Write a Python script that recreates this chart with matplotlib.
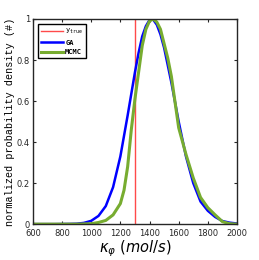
import matplotlib.pyplot as plt

# values
y_true = 1300

ga_x = [600, 650, 700, 750, 800, 850, 900, 950, 1000, 1050, 1100, 1150, 1200,
        1250, 1300, 1325, 1350, 1375, 1400, 1425, 1450, 1475, 1500, 1550,
        1600, 1650, 1700, 1750, 1800, 1850, 1900, 1950, 2000]
ga_y = [0, 0, 0, 0, 0.0005, 0.001, 0.002, 0.006, 0.016, 0.04, 0.088, 0.18,
        0.33, 0.53, 0.74, 0.835, 0.915, 0.965, 0.995, 0.997, 0.972, 0.925,
        0.86, 0.69, 0.50, 0.33, 0.20, 0.11, 0.065, 0.035, 0.015, 0.007, 0.003]

mcmc_x = [600, 700, 800, 900, 1000, 1050, 1100, 1150, 1200, 1225, 1250, 1275,
          1300, 1325, 1350, 1375, 1400, 1425, 1450, 1475, 1500, 1525, 1550,
          1600, 1650, 1700, 1750, 1800, 1850, 1900, 1950, 2000]
mcmc_y = [0, 0, 0, 0, 0.002, 0.008, 0.018, 0.045, 0.10, 0.165, 0.28, 0.46,
          0.61, 0.74, 0.87, 0.95, 0.99, 1.0, 0.985, 0.95, 0.88, 0.81, 0.72,
          0.47, 0.34, 0.225, 0.13, 0.08, 0.045, 0.012, 0.002, 0]

xticks = [600, 800, 1000, 1200, 1400, 1600, 1800, 2000]
yticks = [0, 0.2, 0.4, 0.6, 0.8, 1]
ytick_labels = ["0", "0.2", "0.4", "0.6", "0.8", "1"]

fig = plt.figure(figsize=(2.59, 2.60), dpi=100)
ax = fig.add_axes([0.127, 0.138, 0.788, 0.789])

ax.axvline(y_true, color="#ff4a4a", lw=1.0, label=r"$\mathtt{y_{true}}$")
ax.plot(ga_x, ga_y, color="#0000ff", lw=1.8, label="GA")
ax.plot(mcmc_x, mcmc_y, color="#77ac30", lw=2.2, label="MCMC")

ax.set_xlim(600, 2000)
ax.set_ylim(0, 1)
ax.set_xticks(xticks)
ax.set_xticklabels([str(t) for t in xticks])
ax.set_yticks(yticks)
ax.set_yticklabels(ytick_labels)
ax.tick_params(direction="in", top=True, right=True, labelsize=6, length=2.5,
               width=0.8, colors="#262626")
ax.tick_params(axis="x", pad=3.5)
ax.tick_params(axis="y", pad=2)
for s in ax.spines.values():
    s.set_linewidth(1.0)
    s.set_color("#262626")

ax.set_xlabel(r"$\kappa_\varphi\ (mol/s)$", fontsize=10.5, labelpad=0)
ax.set_ylabel("normalized probability density (#)", fontsize=7.3,
              family="Liberation Mono", labelpad=1.5)

leg = ax.legend(loc="upper left", prop={"family": "DejaVu Sans Mono", "size": 5,
                                       "weight": "bold"},
                handlelength=3.2, borderpad=0.45, labelspacing=0.5,
                handletextpad=0.3, fancybox=False, framealpha=1,
                borderaxespad=0.7)
leg.get_frame().set_edgecolor("black")
leg.get_frame().set_linewidth(1.0)

fig.savefig("out.png", dpi=100)
